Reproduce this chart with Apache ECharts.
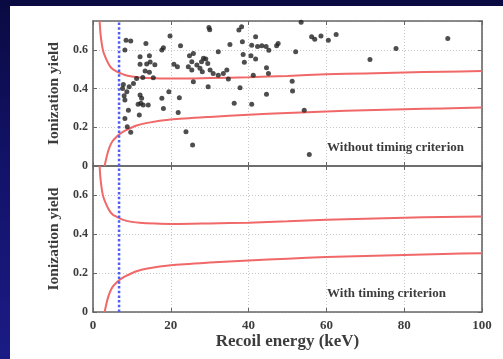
<!DOCTYPE html>
<html>
<head>
<meta charset="utf-8">
<script src="https://cdn.jsdelivr.net/npm/echarts@6/dist/echarts.min.js"></script>
<style>
  html, body { margin: 0; padding: 0; }
  body {
    width: 503px; height: 359px; overflow: hidden; position: relative;
    background: linear-gradient(180deg, #0a0a42 0%, #121268 45%, #1b1b86 100%);
  }
  #sheet { position: absolute; left: 10px; top: 6px; right: 0; bottom: 0; background: #ffffff; }
  #chart { position: absolute; left: 0; top: 0; width: 503px; height: 359px; }
</style>
</head>
<body>
<div id="sheet"></div>
<div id="chart"></div>
<script>
// Recoil energy (keV) / ionization yield of the recorded events (upper panel only)
const eventEnergy = [
  8.5, 9.7, 8.2, 13.6, 19.8, 22.5, 17.7, 18.1, 14.5, 12.1, 13.8, 14.7, 15.9, 13.4, 14.5, 15.5,
  11.2, 12.8, 10.4, 9.3, 8.7, 8.0, 8.2, 7.6, 7.8, 12.1, 12.5, 12.3, 11.6, 12.9, 14.2, 17.7,
  19.5, 22.2, 18.1, 21.9, 11.9, 9.1, 8.2, 8.8, 9.7, 23.9, 25.6, 12.1,
  24.8, 25.8, 20.8, 21.7, 24.5, 25.4, 26.7, 27.5, 28.4, 27.9, 25.8, 29.6, 29.8, 30.0, 32.2,
  28.1, 30.1, 32.2, 33.5, 34.4, 34.8, 35.2, 37.5, 38.2, 38.4, 41.8, 40.8, 42.3, 43.4, 44.5,
  45.2, 47.2, 47.6, 38.6, 40.6, 41.8, 38.9, 41.2, 44.6, 45.1, 37.8, 36.3, 40.8, 44.6, 51.2,
  51.3, 52.1, 53.5, 54.3, 55.6, 56.2, 57.0, 58.6, 60.5, 62.5, 71.2, 77.9, 91.2, 29.0, 29.5,
  25.4, 30.9
];
const eventYield = [
  0.651, 0.646, 0.600, 0.634, 0.673, 0.622, 0.600, 0.612, 0.570, 0.526, 0.528, 0.538, 0.524, 0.491, 0.485, 0.456,
  0.453, 0.458, 0.427, 0.410, 0.384, 0.363, 0.341, 0.401, 0.422, 0.367, 0.350, 0.324, 0.319, 0.315, 0.315, 0.350,
  0.384, 0.353, 0.298, 0.277, 0.264, 0.289, 0.246, 0.203, 0.174, 0.177, 0.109, 0.565,
  0.570, 0.582, 0.526, 0.513, 0.513, 0.496, 0.522, 0.505, 0.557, 0.539, 0.436, 0.410, 0.717, 0.705, 0.591,
  0.487, 0.496, 0.470, 0.479, 0.496, 0.450, 0.629, 0.703, 0.720, 0.643, 0.668, 0.625, 0.618, 0.622, 0.618,
  0.599, 0.622, 0.634, 0.577, 0.570, 0.553, 0.536, 0.470, 0.508, 0.479, 0.405, 0.324, 0.319, 0.371, 0.439,
  0.388, 0.591, 0.743, 0.289, 0.060, 0.668, 0.656, 0.673, 0.651, 0.680, 0.551, 0.608, 0.660, 0.553, 0.530,
  0.539, 0.479
];

// Upper boundary of the nuclear-recoil band
const upperEnergy = [1.7, 1.9, 2.2, 2.6, 3.4, 4.3, 5.1, 6, 6.7, 8, 10, 12, 16, 20, 30, 40, 50, 60, 70, 80, 90, 100];
const upperYield  = [0.75, 0.69, 0.64, 0.595, 0.553, 0.518, 0.500, 0.490, 0.483, 0.472, 0.463, 0.458, 0.454, 0.452,
                     0.455, 0.459, 0.466, 0.474, 0.479, 0.484, 0.488, 0.491];

// Lower boundary of the nuclear-recoil band
const lowerEnergy = [3.0, 3.3, 3.8, 4.3, 5, 6, 6.7, 8, 9, 11, 14, 20, 30, 40, 50, 60, 70, 80, 90, 100];
const lowerYield  = [0, 0.03, 0.07, 0.10, 0.128, 0.150, 0.163, 0.180, 0.190, 0.208, 0.223, 0.240, 0.254,
                     0.265, 0.274, 0.282, 0.288, 0.293, 0.298, 0.302];

// Analysis threshold (keV)
const thresholdEnergy = 6.7;

const xTickValues = [0, 20, 40, 60, 80, 100];
const yTickValues = [0, 0.2, 0.4, 0.6];
const panelLabels = ['Without timing criterion', 'With timing criterion'];
const xTitle = 'Recoil energy (keV)';
const yTitle = 'Ionization yield';

const pairs = (xs, ys) => xs.map((x, i) => [x, ys[i]]);

const serif = '"Liberation Serif", "DejaVu Serif", serif';
const textColor = '#3c3c3c';
const frameColor = '#666666';
const gridLine = { show: true, lineStyle: { color: '#c8c8c8', type: [1, 2], width: 1 } };

const grids = [
  { left: 93, top: 21, width: 389, height: 145 },
  { left: 93, top: 166, width: 389, height: 146 }
];

function xAxisFor(gi, pos, labels) {
  return {
    gridIndex: gi, type: 'value', position: pos, min: 0, max: 100, interval: 20,
    axisLine: { show: true, onZero: false, lineStyle: { color: frameColor, width: 1.6 } },
    axisTick: { show: true, inside: true, length: 4, lineStyle: { color: frameColor } },
    splitLine: pos === 'bottom' ? gridLine : { show: false },
    axisLabel: labels ? {
      show: true, margin: 7, color: textColor, fontFamily: serif, fontWeight: 'bold', fontSize: 13,
      formatter: v => (xTickValues.includes(v) ? String(v) : '')
    } : { show: false },
    name: labels ? xTitle : '',
    nameLocation: 'middle', nameGap: 21,
    nameTextStyle: { color: textColor, fontFamily: serif, fontWeight: 'bold', fontSize: 17 }
  };
}

function yAxisFor(gi, pos, labels) {
  return {
    gridIndex: gi, type: 'value', position: pos, min: 0, max: 0.75, interval: 0.2,
    axisLine: { show: true, onZero: false, lineStyle: { color: frameColor, width: 1.6 } },
    axisTick: { show: true, inside: true, length: 4, lineStyle: { color: frameColor } },
    splitLine: pos === 'left' ? gridLine : { show: false },
    axisLabel: labels ? {
      show: true, margin: 5, color: textColor, fontFamily: serif, fontWeight: 'bold', fontSize: 12,
      showMaxLabel: false,
      formatter: v => {
        const hit = yTickValues.find(t => Math.abs(t - v) < 1e-6);
        return hit === undefined ? '' : String(hit);
      }
    } : { show: false },
    name: labels ? yTitle : '',
    nameLocation: 'middle', nameGap: 29, nameRotate: 90,
    nameTextStyle: { color: textColor, fontFamily: serif, fontWeight: 'bold', fontSize: 15.5 }
  };
}

const redLine = { color: '#f06868', width: 2 };
const blueDash = { color: '#4f5ef5', width: 2.5, type: [2.5, 2.2] };

const series = [];
[0, 1].forEach(gi => {
  series.push({
    type: 'line', xAxisIndex: gi * 2, yAxisIndex: gi * 2, data: pairs(upperEnergy, upperYield),
    showSymbol: false, smooth: 0.25, lineStyle: redLine, silent: true, z: 3
  });
  series.push({
    type: 'line', xAxisIndex: gi * 2, yAxisIndex: gi * 2, data: pairs(lowerEnergy, lowerYield),
    showSymbol: false, smooth: 0.25, lineStyle: redLine, silent: true, z: 3
  });
  series.push({
    type: 'line', xAxisIndex: gi * 2, yAxisIndex: gi * 2,
    data: [[thresholdEnergy, 0], [thresholdEnergy, 0.75]],
    showSymbol: false, lineStyle: blueDash, silent: true, z: 4
  });
});
series.push({
  type: 'scatter', xAxisIndex: 0, yAxisIndex: 0, data: pairs(eventEnergy, eventYield),
  symbol: 'circle', symbolSize: 5, itemStyle: { color: '#222222' }, silent: true, z: 5
});

const chart = echarts.init(document.getElementById('chart'), null, { renderer: 'canvas' });
chart.setOption({
  animation: false,
  backgroundColor: 'transparent',
  grid: grids,
  xAxis: [
    xAxisFor(0, 'bottom', false), xAxisFor(0, 'top', false),
    xAxisFor(1, 'bottom', true), xAxisFor(1, 'top', false)
  ],
  yAxis: [
    yAxisFor(0, 'left', true), yAxisFor(0, 'right', false),
    yAxisFor(1, 'left', true), yAxisFor(1, 'right', false)
  ],
  series: series,
  graphic: [
    { type: 'text', left: 327, top: 141, z: 10,
      style: { text: panelLabels[0], fill: textColor, font: 'bold 13px ' + serif } },
    { type: 'text', left: 327, top: 287, z: 10,
      style: { text: panelLabels[1], fill: textColor, font: 'bold 13px ' + serif } }
  ]
});
</script>
</body>
</html>
